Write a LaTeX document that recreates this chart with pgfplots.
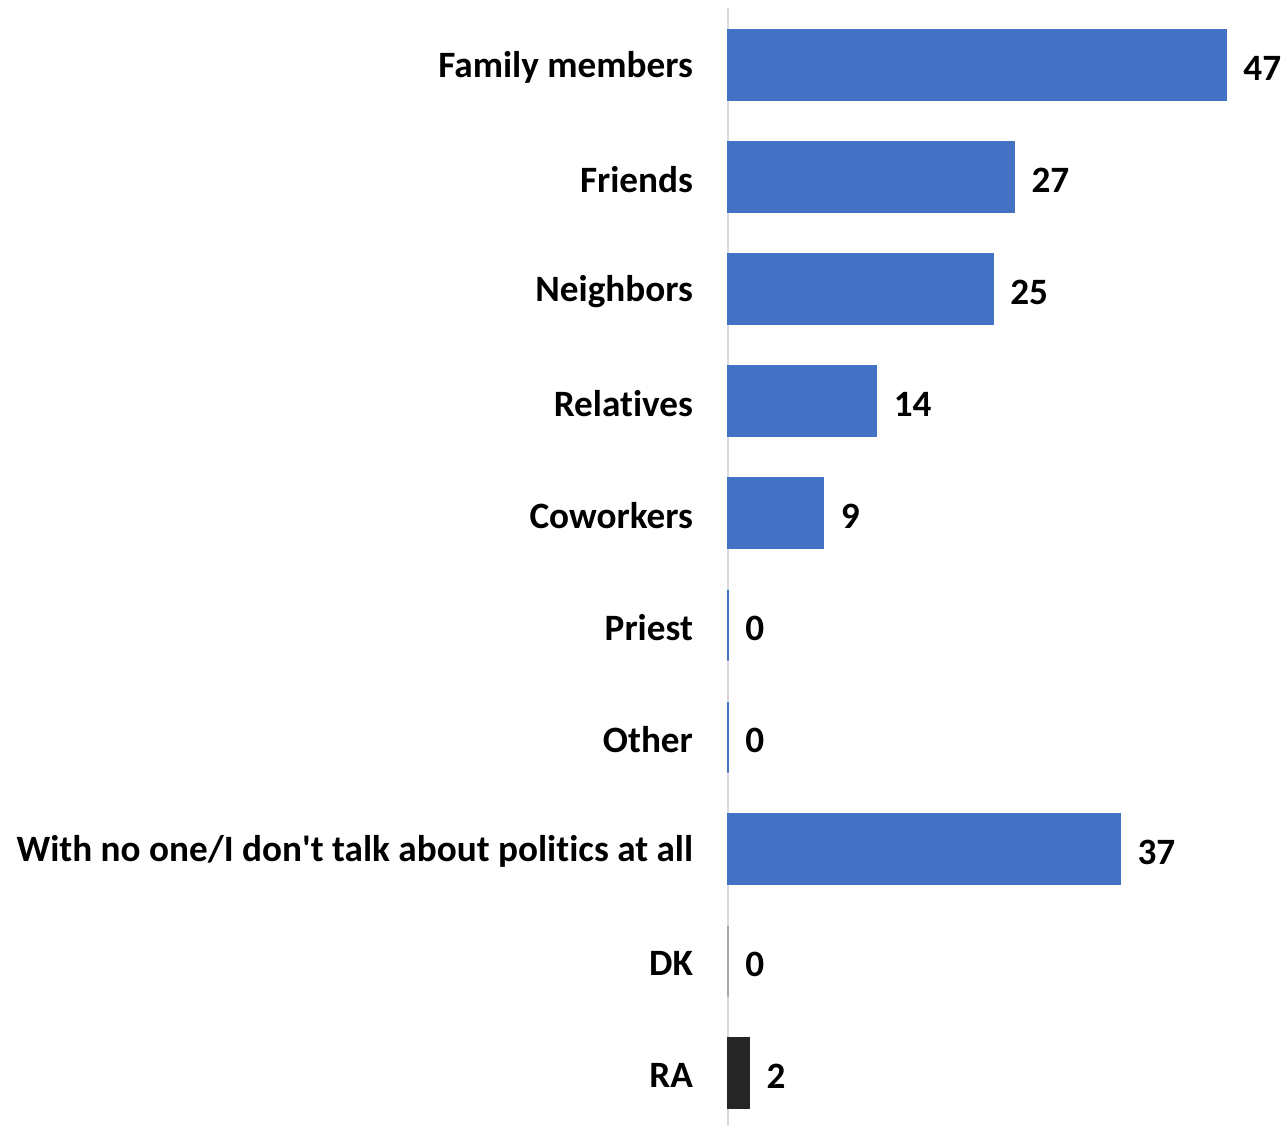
\documentclass[border=0pt]{standalone}
\usepackage{pgfplots}
\pgfplotsset{compat=1.18}
\usepackage{fontspec}
\setmainfont{Carlito}[Ligatures={NoCommon}]
\definecolor{barblue}{HTML}{4472C4}
\definecolor{dkgray}{HTML}{A5A5A5}
\definecolor{radark}{HTML}{262626}
\definecolor{axgray}{HTML}{D9D9D9}
\begin{document}
\begin{tikzpicture}[x=1pt,y=1pt]
\useasboundingbox (0,0) rectangle (642,563);
\begin{axis}[
  at={(364pt,0pt)}, anchor=south west,
  scale only axis,
  width=275.5pt, height=559pt,
  xbar, bar shift=0pt, bar width=0.63,
  xmin=0, xmax=52,
  ymin=-0.51, ymax=9.47,
  y dir=reverse,
  ytick={0,1,2,3,4,5,6,7,8,9},
  yticklabels={Family members,Friends,Neighbors,Relatives,Coworkers,Priest,Other,{With no one/I don\textquotesingle t talk about politics at all},DK,RA},
  major tick length=0pt,
  axis x line=none,
  axis y line=left,
  axis line style={-, draw=axgray, line width=0.8pt},
  yticklabel style={font=\fontsize{18.6}{22}\selectfont\bfseries, anchor=east, xshift=-14pt, yshift=-1pt},
  nodes near coords,
  /pgf/number format/assume math mode=true,
  every node near coord/.append style={font=\fontsize{18.6}{22}\selectfont\bfseries, anchor=west, xshift=5pt, yshift=-1.5pt, text=black},
  clip=false,
]
\addplot[fill=barblue, draw=barblue, line width=0.8pt] coordinates {(47,0) (27,1) (25,2) (14,3) (9,4) (0,5) (0,6) (37,7)};
\addplot[fill=dkgray, draw=dkgray, line width=0.8pt] coordinates {(0,8)};
\addplot[fill=radark, draw=radark, line width=0.8pt] coordinates {(2,9)};
\end{axis}
\end{tikzpicture}
\end{document}
